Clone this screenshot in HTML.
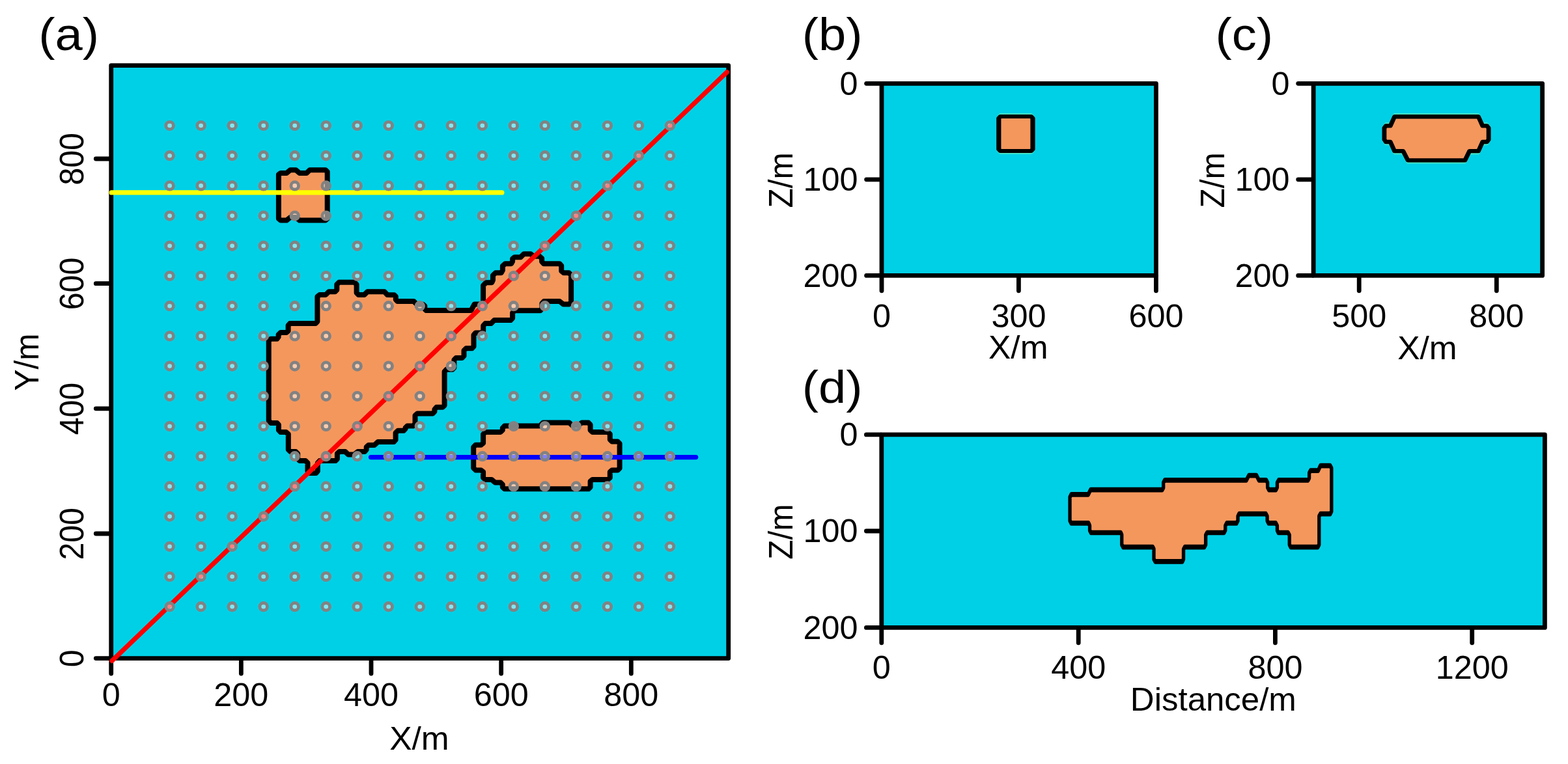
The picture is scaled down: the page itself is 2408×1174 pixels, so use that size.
<!DOCTYPE html>
<html lang="en">
<head>
<meta charset="utf-8">
<title>Model plan view and sections</title>
<style>
html,body{margin:0;padding:0;background:#fff;}
body{width:2408px;height:1174px;}
svg{display:block;}
svg text{font-family:"Liberation Sans", Arial, Helvetica, sans-serif;fill:#000;}
</style>
</head>
<body>
<svg width="2408" height="1174" viewBox="0 0 2408 1174">
<rect x="0" y="0" width="2408" height="1174" fill="#fff"/>
<g id="panel-a">
<rect x="170.70" y="100.70" width="948.00" height="910.90" fill="#00D0E6" stroke="none"/>
<polygon points="427.9,268.1 430.9,266.1 440.1,266.1 445.7,261.2 454.4,261.2 460.0,266.1 470.7,266.1 475.8,261.2 499.8,261.2 502.7,264.0 502.7,336.0 499.8,338.6 460.0,338.6 454.4,334.0 445.7,334.0 440.1,338.6 430.9,338.6 427.9,336.0" fill="#F4975D" stroke="#000" stroke-width="8.00" stroke-linejoin="round" />
<polygon points="412.7,524.0 416.0,520.7 425.4,520.7 427.6,517.9 427.6,514.1 431.0,511.0 439.8,511.0 442.6,508.5 442.6,500.2 445.4,496.9 484.7,496.9 487.4,494.1 487.4,455.9 490.8,453.0 500.2,453.0 505.1,448.2 514.6,448.2 517.3,445.4 517.3,437.1 520.6,433.8 544.4,433.8 547.6,437.1 547.6,449.9 550.5,453.0 559.4,453.0 564.4,448.2 590.4,448.2 594.8,453.0 605.3,453.2 607.8,455.6 607.8,460.5 610.2,462.9 635.3,462.9 640.1,467.8 649.8,467.8 652.3,470.2 652.3,475.0 654.3,477.1 723.4,477.1 728.6,467.5 738.7,467.5 742.1,464.1 742.1,438.6 746.5,434.2 755.3,434.2 757.0,430.3 757.0,423.1 760.9,419.3 769.7,419.3 771.9,415.4 771.9,408.8 775.8,405.2 785.2,405.2 787.1,401.6 787.1,397.7 790.2,395.2 799.6,395.2 804.6,390.2 815.1,390.2 819.0,393.8 828.4,393.8 832.1,397.1 832.1,402.1 835.0,405.2 859.4,405.2 862.2,408.2 862.2,416.5 865.5,419.3 873.8,419.3 877.1,422.6 877.1,464.1 874.3,467.4 864.9,467.4 859.4,463.0 835.4,463.0 832.4,466.3 832.4,474.1 829.7,477.3 790.2,477.3 787.1,480.7 787.1,489.0 784.1,492.1 759.0,492.1 754.0,497.1 745.2,497.1 742.2,500.4 742.2,508.7 739.1,511.4 730.2,511.4 727.5,514.8 727.5,532.5 724.7,535.3 715.8,535.3 712.5,538.6 712.5,546.9 709.8,549.9 700.3,549.9 697.4,553.0 697.4,565.0 694.8,567.8 685.6,567.8 682.6,571.0 682.6,623.0 679.6,625.8 670.2,625.8 667.4,629.1 667.4,632.4 664.7,635.4 640.9,635.4 637.5,638.5 637.5,651.3 634.2,654.6 625.4,654.6 622.6,657.4 622.6,659.0 619.8,661.8 611.0,661.8 607.6,665.1 607.6,675.9 604.8,679.0 580.4,679.0 574.9,683.9 566.0,683.9 562.7,687.0 562.7,690.9 560.0,694.0 549.4,694.0 543.9,698.6 535.0,698.6 530.1,694.0 521.2,694.0 517.9,697.0 517.9,705.3 515.1,708.1 490.8,708.1 487.8,711.4 487.8,724.1 485.2,727.1 475.8,727.1 472.5,724.1 472.5,711.4 469.2,708.1 460.3,708.1 457.2,705.3 457.2,697.0 454.2,694.0 445.9,694.0 442.8,690.9 442.8,667.1 439.3,664.1 431.0,664.1 427.9,661.0 427.9,652.7 425.4,649.9 416.0,649.9 412.7,646.6" fill="#F4975D" stroke="#000" stroke-width="8.00" stroke-linejoin="round" />
<polygon points="727.2,687.0 730.5,683.7 738.8,683.7 742.1,681.0 742.1,667.1 745.5,664.0 768.7,664.0 771.8,661.0 771.8,657.7 774.8,654.6 829.1,654.6 834.0,649.6 874.4,649.6 878.9,653.8 887.7,653.8 893.3,649.6 903.8,649.6 906.6,652.7 906.6,661.0 909.9,664.0 933.7,664.0 936.8,667.1 936.8,675.4 939.8,678.5 948.6,678.5 951.6,681.5 951.6,719.7 948.6,722.5 939.8,722.5 936.8,725.2 936.8,734.1 933.7,736.9 909.9,736.9 906.6,739.6 906.6,748.5 903.8,751.3 774.8,751.3 771.8,748.5 771.8,744.6 768.7,741.5 760.4,741.5 754.9,736.9 745.5,736.9 742.1,734.1 742.1,725.2 738.8,722.5 730.5,722.5 727.2,719.2" fill="#F4975D" stroke="#000" stroke-width="8.00" stroke-linejoin="round" />
<rect x="170.70" y="100.70" width="948.00" height="910.90" fill="none" stroke="#000" stroke-width="6.80" stroke-linejoin="round"/>
<line x1="170.70" y1="1013.10" x2="170.70" y2="1035.00" stroke="#000" stroke-width="6.80" stroke-linecap="round"/>
<line x1="370.35" y1="1013.10" x2="370.35" y2="1035.00" stroke="#000" stroke-width="6.80" stroke-linecap="round"/>
<line x1="570.00" y1="1013.10" x2="570.00" y2="1035.00" stroke="#000" stroke-width="6.80" stroke-linecap="round"/>
<line x1="769.65" y1="1013.10" x2="769.65" y2="1035.00" stroke="#000" stroke-width="6.80" stroke-linecap="round"/>
<line x1="969.30" y1="1013.10" x2="969.30" y2="1035.00" stroke="#000" stroke-width="6.80" stroke-linecap="round"/>
<line x1="169.20" y1="1011.60" x2="147.30" y2="1011.60" stroke="#000" stroke-width="6.80" stroke-linecap="round"/>
<line x1="169.20" y1="820.00" x2="147.30" y2="820.00" stroke="#000" stroke-width="6.80" stroke-linecap="round"/>
<line x1="169.20" y1="627.80" x2="147.30" y2="627.80" stroke="#000" stroke-width="6.80" stroke-linecap="round"/>
<line x1="169.20" y1="435.70" x2="147.30" y2="435.70" stroke="#000" stroke-width="6.80" stroke-linecap="round"/>
<line x1="169.20" y1="244.00" x2="147.30" y2="244.00" stroke="#000" stroke-width="6.80" stroke-linecap="round"/>
<line x1="171.2" y1="295.9" x2="770.9" y2="295.9" stroke="#FFFF00" stroke-width="7.2" stroke-linecap="round"/>
<line x1="569.5" y1="702.6" x2="1068.7" y2="702.6" stroke="#0000FF" stroke-width="7.2" stroke-linecap="round"/>
<line x1="172.0" y1="1015.4" x2="1116.3" y2="110.8" stroke="#FF0000" stroke-width="7.2" stroke-linecap="round"/>
<g fill="#fff" fill-opacity="0.5" stroke="#828282" stroke-width="4.8">
<ellipse cx="260.6" cy="193.0" rx="5.8" ry="5.7"/><ellipse cx="308.6" cy="193.0" rx="5.8" ry="5.7"/><ellipse cx="356.6" cy="193.0" rx="5.8" ry="5.7"/><ellipse cx="404.7" cy="193.0" rx="5.8" ry="5.7"/><ellipse cx="452.7" cy="193.0" rx="5.8" ry="5.7"/><ellipse cx="500.7" cy="193.0" rx="5.8" ry="5.7"/><ellipse cx="548.7" cy="193.0" rx="5.8" ry="5.7"/><ellipse cx="596.7" cy="193.0" rx="5.8" ry="5.7"/><ellipse cx="644.8" cy="193.0" rx="5.8" ry="5.7"/><ellipse cx="692.8" cy="193.0" rx="5.8" ry="5.7"/><ellipse cx="740.8" cy="193.0" rx="5.8" ry="5.7"/><ellipse cx="788.8" cy="193.0" rx="5.8" ry="5.7"/><ellipse cx="836.8" cy="193.0" rx="5.8" ry="5.7"/><ellipse cx="884.8" cy="193.0" rx="5.8" ry="5.7"/><ellipse cx="932.9" cy="193.0" rx="5.8" ry="5.7"/><ellipse cx="980.9" cy="193.0" rx="5.8" ry="5.7"/><ellipse cx="1028.9" cy="193.0" rx="5.8" ry="5.7"/>
<ellipse cx="260.6" cy="239.2" rx="5.8" ry="5.7"/><ellipse cx="308.6" cy="239.2" rx="5.8" ry="5.7"/><ellipse cx="356.6" cy="239.2" rx="5.8" ry="5.7"/><ellipse cx="404.7" cy="239.2" rx="5.8" ry="5.7"/><ellipse cx="452.7" cy="239.2" rx="5.8" ry="5.7"/><ellipse cx="500.7" cy="239.2" rx="5.8" ry="5.7"/><ellipse cx="548.7" cy="239.2" rx="5.8" ry="5.7"/><ellipse cx="596.7" cy="239.2" rx="5.8" ry="5.7"/><ellipse cx="644.8" cy="239.2" rx="5.8" ry="5.7"/><ellipse cx="692.8" cy="239.2" rx="5.8" ry="5.7"/><ellipse cx="740.8" cy="239.2" rx="5.8" ry="5.7"/><ellipse cx="788.8" cy="239.2" rx="5.8" ry="5.7"/><ellipse cx="836.8" cy="239.2" rx="5.8" ry="5.7"/><ellipse cx="884.8" cy="239.2" rx="5.8" ry="5.7"/><ellipse cx="932.9" cy="239.2" rx="5.8" ry="5.7"/><ellipse cx="980.9" cy="239.2" rx="5.8" ry="5.7"/><ellipse cx="1028.9" cy="239.2" rx="5.8" ry="5.7"/>
<ellipse cx="260.6" cy="285.4" rx="5.8" ry="5.7"/><ellipse cx="308.6" cy="285.4" rx="5.8" ry="5.7"/><ellipse cx="356.6" cy="285.4" rx="5.8" ry="5.7"/><ellipse cx="404.7" cy="285.4" rx="5.8" ry="5.7"/><ellipse cx="452.7" cy="285.4" rx="5.8" ry="5.7"/><ellipse cx="500.7" cy="285.4" rx="5.8" ry="5.7"/><ellipse cx="548.7" cy="285.4" rx="5.8" ry="5.7"/><ellipse cx="596.7" cy="285.4" rx="5.8" ry="5.7"/><ellipse cx="644.8" cy="285.4" rx="5.8" ry="5.7"/><ellipse cx="692.8" cy="285.4" rx="5.8" ry="5.7"/><ellipse cx="740.8" cy="285.4" rx="5.8" ry="5.7"/><ellipse cx="788.8" cy="285.4" rx="5.8" ry="5.7"/><ellipse cx="836.8" cy="285.4" rx="5.8" ry="5.7"/><ellipse cx="884.8" cy="285.4" rx="5.8" ry="5.7"/><ellipse cx="932.9" cy="285.4" rx="5.8" ry="5.7"/><ellipse cx="980.9" cy="285.4" rx="5.8" ry="5.7"/><ellipse cx="1028.9" cy="285.4" rx="5.8" ry="5.7"/>
<ellipse cx="260.6" cy="331.6" rx="5.8" ry="5.7"/><ellipse cx="308.6" cy="331.6" rx="5.8" ry="5.7"/><ellipse cx="356.6" cy="331.6" rx="5.8" ry="5.7"/><ellipse cx="404.7" cy="331.6" rx="5.8" ry="5.7"/><ellipse cx="452.7" cy="331.6" rx="5.8" ry="5.7"/><ellipse cx="500.7" cy="331.6" rx="5.8" ry="5.7"/><ellipse cx="548.7" cy="331.6" rx="5.8" ry="5.7"/><ellipse cx="596.7" cy="331.6" rx="5.8" ry="5.7"/><ellipse cx="644.8" cy="331.6" rx="5.8" ry="5.7"/><ellipse cx="692.8" cy="331.6" rx="5.8" ry="5.7"/><ellipse cx="740.8" cy="331.6" rx="5.8" ry="5.7"/><ellipse cx="788.8" cy="331.6" rx="5.8" ry="5.7"/><ellipse cx="836.8" cy="331.6" rx="5.8" ry="5.7"/><ellipse cx="884.8" cy="331.6" rx="5.8" ry="5.7"/><ellipse cx="932.9" cy="331.6" rx="5.8" ry="5.7"/><ellipse cx="980.9" cy="331.6" rx="5.8" ry="5.7"/><ellipse cx="1028.9" cy="331.6" rx="5.8" ry="5.7"/>
<ellipse cx="260.6" cy="377.8" rx="5.8" ry="5.7"/><ellipse cx="308.6" cy="377.8" rx="5.8" ry="5.7"/><ellipse cx="356.6" cy="377.8" rx="5.8" ry="5.7"/><ellipse cx="404.7" cy="377.8" rx="5.8" ry="5.7"/><ellipse cx="452.7" cy="377.8" rx="5.8" ry="5.7"/><ellipse cx="500.7" cy="377.8" rx="5.8" ry="5.7"/><ellipse cx="548.7" cy="377.8" rx="5.8" ry="5.7"/><ellipse cx="596.7" cy="377.8" rx="5.8" ry="5.7"/><ellipse cx="644.8" cy="377.8" rx="5.8" ry="5.7"/><ellipse cx="692.8" cy="377.8" rx="5.8" ry="5.7"/><ellipse cx="740.8" cy="377.8" rx="5.8" ry="5.7"/><ellipse cx="788.8" cy="377.8" rx="5.8" ry="5.7"/><ellipse cx="836.8" cy="377.8" rx="5.8" ry="5.7"/><ellipse cx="884.8" cy="377.8" rx="5.8" ry="5.7"/><ellipse cx="932.9" cy="377.8" rx="5.8" ry="5.7"/><ellipse cx="980.9" cy="377.8" rx="5.8" ry="5.7"/><ellipse cx="1028.9" cy="377.8" rx="5.8" ry="5.7"/>
<ellipse cx="260.6" cy="424.0" rx="5.8" ry="5.7"/><ellipse cx="308.6" cy="424.0" rx="5.8" ry="5.7"/><ellipse cx="356.6" cy="424.0" rx="5.8" ry="5.7"/><ellipse cx="404.7" cy="424.0" rx="5.8" ry="5.7"/><ellipse cx="452.7" cy="424.0" rx="5.8" ry="5.7"/><ellipse cx="500.7" cy="424.0" rx="5.8" ry="5.7"/><ellipse cx="548.7" cy="424.0" rx="5.8" ry="5.7"/><ellipse cx="596.7" cy="424.0" rx="5.8" ry="5.7"/><ellipse cx="644.8" cy="424.0" rx="5.8" ry="5.7"/><ellipse cx="692.8" cy="424.0" rx="5.8" ry="5.7"/><ellipse cx="740.8" cy="424.0" rx="5.8" ry="5.7"/><ellipse cx="788.8" cy="424.0" rx="5.8" ry="5.7"/><ellipse cx="836.8" cy="424.0" rx="5.8" ry="5.7"/><ellipse cx="884.8" cy="424.0" rx="5.8" ry="5.7"/><ellipse cx="932.9" cy="424.0" rx="5.8" ry="5.7"/><ellipse cx="980.9" cy="424.0" rx="5.8" ry="5.7"/><ellipse cx="1028.9" cy="424.0" rx="5.8" ry="5.7"/>
<ellipse cx="260.6" cy="470.2" rx="5.8" ry="5.7"/><ellipse cx="308.6" cy="470.2" rx="5.8" ry="5.7"/><ellipse cx="356.6" cy="470.2" rx="5.8" ry="5.7"/><ellipse cx="404.7" cy="470.2" rx="5.8" ry="5.7"/><ellipse cx="452.7" cy="470.2" rx="5.8" ry="5.7"/><ellipse cx="500.7" cy="470.2" rx="5.8" ry="5.7"/><ellipse cx="548.7" cy="470.2" rx="5.8" ry="5.7"/><ellipse cx="596.7" cy="470.2" rx="5.8" ry="5.7"/><ellipse cx="644.8" cy="470.2" rx="5.8" ry="5.7"/><ellipse cx="692.8" cy="470.2" rx="5.8" ry="5.7"/><ellipse cx="740.8" cy="470.2" rx="5.8" ry="5.7"/><ellipse cx="788.8" cy="470.2" rx="5.8" ry="5.7"/><ellipse cx="836.8" cy="470.2" rx="5.8" ry="5.7"/><ellipse cx="884.8" cy="470.2" rx="5.8" ry="5.7"/><ellipse cx="932.9" cy="470.2" rx="5.8" ry="5.7"/><ellipse cx="980.9" cy="470.2" rx="5.8" ry="5.7"/><ellipse cx="1028.9" cy="470.2" rx="5.8" ry="5.7"/>
<ellipse cx="260.6" cy="516.4" rx="5.8" ry="5.7"/><ellipse cx="308.6" cy="516.4" rx="5.8" ry="5.7"/><ellipse cx="356.6" cy="516.4" rx="5.8" ry="5.7"/><ellipse cx="404.7" cy="516.4" rx="5.8" ry="5.7"/><ellipse cx="452.7" cy="516.4" rx="5.8" ry="5.7"/><ellipse cx="500.7" cy="516.4" rx="5.8" ry="5.7"/><ellipse cx="548.7" cy="516.4" rx="5.8" ry="5.7"/><ellipse cx="596.7" cy="516.4" rx="5.8" ry="5.7"/><ellipse cx="644.8" cy="516.4" rx="5.8" ry="5.7"/><ellipse cx="692.8" cy="516.4" rx="5.8" ry="5.7"/><ellipse cx="740.8" cy="516.4" rx="5.8" ry="5.7"/><ellipse cx="788.8" cy="516.4" rx="5.8" ry="5.7"/><ellipse cx="836.8" cy="516.4" rx="5.8" ry="5.7"/><ellipse cx="884.8" cy="516.4" rx="5.8" ry="5.7"/><ellipse cx="932.9" cy="516.4" rx="5.8" ry="5.7"/><ellipse cx="980.9" cy="516.4" rx="5.8" ry="5.7"/><ellipse cx="1028.9" cy="516.4" rx="5.8" ry="5.7"/>
<ellipse cx="260.6" cy="562.6" rx="5.8" ry="5.7"/><ellipse cx="308.6" cy="562.6" rx="5.8" ry="5.7"/><ellipse cx="356.6" cy="562.6" rx="5.8" ry="5.7"/><ellipse cx="404.7" cy="562.6" rx="5.8" ry="5.7"/><ellipse cx="452.7" cy="562.6" rx="5.8" ry="5.7"/><ellipse cx="500.7" cy="562.6" rx="5.8" ry="5.7"/><ellipse cx="548.7" cy="562.6" rx="5.8" ry="5.7"/><ellipse cx="596.7" cy="562.6" rx="5.8" ry="5.7"/><ellipse cx="644.8" cy="562.6" rx="5.8" ry="5.7"/><ellipse cx="692.8" cy="562.6" rx="5.8" ry="5.7"/><ellipse cx="740.8" cy="562.6" rx="5.8" ry="5.7"/><ellipse cx="788.8" cy="562.6" rx="5.8" ry="5.7"/><ellipse cx="836.8" cy="562.6" rx="5.8" ry="5.7"/><ellipse cx="884.8" cy="562.6" rx="5.8" ry="5.7"/><ellipse cx="932.9" cy="562.6" rx="5.8" ry="5.7"/><ellipse cx="980.9" cy="562.6" rx="5.8" ry="5.7"/><ellipse cx="1028.9" cy="562.6" rx="5.8" ry="5.7"/>
<ellipse cx="260.6" cy="608.8" rx="5.8" ry="5.7"/><ellipse cx="308.6" cy="608.8" rx="5.8" ry="5.7"/><ellipse cx="356.6" cy="608.8" rx="5.8" ry="5.7"/><ellipse cx="404.7" cy="608.8" rx="5.8" ry="5.7"/><ellipse cx="452.7" cy="608.8" rx="5.8" ry="5.7"/><ellipse cx="500.7" cy="608.8" rx="5.8" ry="5.7"/><ellipse cx="548.7" cy="608.8" rx="5.8" ry="5.7"/><ellipse cx="596.7" cy="608.8" rx="5.8" ry="5.7"/><ellipse cx="644.8" cy="608.8" rx="5.8" ry="5.7"/><ellipse cx="692.8" cy="608.8" rx="5.8" ry="5.7"/><ellipse cx="740.8" cy="608.8" rx="5.8" ry="5.7"/><ellipse cx="788.8" cy="608.8" rx="5.8" ry="5.7"/><ellipse cx="836.8" cy="608.8" rx="5.8" ry="5.7"/><ellipse cx="884.8" cy="608.8" rx="5.8" ry="5.7"/><ellipse cx="932.9" cy="608.8" rx="5.8" ry="5.7"/><ellipse cx="980.9" cy="608.8" rx="5.8" ry="5.7"/><ellipse cx="1028.9" cy="608.8" rx="5.8" ry="5.7"/>
<ellipse cx="260.6" cy="655.0" rx="5.8" ry="5.7"/><ellipse cx="308.6" cy="655.0" rx="5.8" ry="5.7"/><ellipse cx="356.6" cy="655.0" rx="5.8" ry="5.7"/><ellipse cx="404.7" cy="655.0" rx="5.8" ry="5.7"/><ellipse cx="452.7" cy="655.0" rx="5.8" ry="5.7"/><ellipse cx="500.7" cy="655.0" rx="5.8" ry="5.7"/><ellipse cx="548.7" cy="655.0" rx="5.8" ry="5.7"/><ellipse cx="596.7" cy="655.0" rx="5.8" ry="5.7"/><ellipse cx="644.8" cy="655.0" rx="5.8" ry="5.7"/><ellipse cx="692.8" cy="655.0" rx="5.8" ry="5.7"/><ellipse cx="740.8" cy="655.0" rx="5.8" ry="5.7"/><ellipse cx="788.8" cy="655.0" rx="5.8" ry="5.7"/><ellipse cx="836.8" cy="655.0" rx="5.8" ry="5.7"/><ellipse cx="884.8" cy="655.0" rx="5.8" ry="5.7"/><ellipse cx="932.9" cy="655.0" rx="5.8" ry="5.7"/><ellipse cx="980.9" cy="655.0" rx="5.8" ry="5.7"/><ellipse cx="1028.9" cy="655.0" rx="5.8" ry="5.7"/>
<ellipse cx="260.6" cy="701.2" rx="5.8" ry="5.7"/><ellipse cx="308.6" cy="701.2" rx="5.8" ry="5.7"/><ellipse cx="356.6" cy="701.2" rx="5.8" ry="5.7"/><ellipse cx="404.7" cy="701.2" rx="5.8" ry="5.7"/><ellipse cx="452.7" cy="701.2" rx="5.8" ry="5.7"/><ellipse cx="500.7" cy="701.2" rx="5.8" ry="5.7"/><ellipse cx="548.7" cy="701.2" rx="5.8" ry="5.7"/><ellipse cx="596.7" cy="701.2" rx="5.8" ry="5.7"/><ellipse cx="644.8" cy="701.2" rx="5.8" ry="5.7"/><ellipse cx="692.8" cy="701.2" rx="5.8" ry="5.7"/><ellipse cx="740.8" cy="701.2" rx="5.8" ry="5.7"/><ellipse cx="788.8" cy="701.2" rx="5.8" ry="5.7"/><ellipse cx="836.8" cy="701.2" rx="5.8" ry="5.7"/><ellipse cx="884.8" cy="701.2" rx="5.8" ry="5.7"/><ellipse cx="932.9" cy="701.2" rx="5.8" ry="5.7"/><ellipse cx="980.9" cy="701.2" rx="5.8" ry="5.7"/><ellipse cx="1028.9" cy="701.2" rx="5.8" ry="5.7"/>
<ellipse cx="260.6" cy="747.4" rx="5.8" ry="5.7"/><ellipse cx="308.6" cy="747.4" rx="5.8" ry="5.7"/><ellipse cx="356.6" cy="747.4" rx="5.8" ry="5.7"/><ellipse cx="404.7" cy="747.4" rx="5.8" ry="5.7"/><ellipse cx="452.7" cy="747.4" rx="5.8" ry="5.7"/><ellipse cx="500.7" cy="747.4" rx="5.8" ry="5.7"/><ellipse cx="548.7" cy="747.4" rx="5.8" ry="5.7"/><ellipse cx="596.7" cy="747.4" rx="5.8" ry="5.7"/><ellipse cx="644.8" cy="747.4" rx="5.8" ry="5.7"/><ellipse cx="692.8" cy="747.4" rx="5.8" ry="5.7"/><ellipse cx="740.8" cy="747.4" rx="5.8" ry="5.7"/><ellipse cx="788.8" cy="747.4" rx="5.8" ry="5.7"/><ellipse cx="836.8" cy="747.4" rx="5.8" ry="5.7"/><ellipse cx="884.8" cy="747.4" rx="5.8" ry="5.7"/><ellipse cx="932.9" cy="747.4" rx="5.8" ry="5.7"/><ellipse cx="980.9" cy="747.4" rx="5.8" ry="5.7"/><ellipse cx="1028.9" cy="747.4" rx="5.8" ry="5.7"/>
<ellipse cx="260.6" cy="793.6" rx="5.8" ry="5.7"/><ellipse cx="308.6" cy="793.6" rx="5.8" ry="5.7"/><ellipse cx="356.6" cy="793.6" rx="5.8" ry="5.7"/><ellipse cx="404.7" cy="793.6" rx="5.8" ry="5.7"/><ellipse cx="452.7" cy="793.6" rx="5.8" ry="5.7"/><ellipse cx="500.7" cy="793.6" rx="5.8" ry="5.7"/><ellipse cx="548.7" cy="793.6" rx="5.8" ry="5.7"/><ellipse cx="596.7" cy="793.6" rx="5.8" ry="5.7"/><ellipse cx="644.8" cy="793.6" rx="5.8" ry="5.7"/><ellipse cx="692.8" cy="793.6" rx="5.8" ry="5.7"/><ellipse cx="740.8" cy="793.6" rx="5.8" ry="5.7"/><ellipse cx="788.8" cy="793.6" rx="5.8" ry="5.7"/><ellipse cx="836.8" cy="793.6" rx="5.8" ry="5.7"/><ellipse cx="884.8" cy="793.6" rx="5.8" ry="5.7"/><ellipse cx="932.9" cy="793.6" rx="5.8" ry="5.7"/><ellipse cx="980.9" cy="793.6" rx="5.8" ry="5.7"/><ellipse cx="1028.9" cy="793.6" rx="5.8" ry="5.7"/>
<ellipse cx="260.6" cy="839.8" rx="5.8" ry="5.7"/><ellipse cx="308.6" cy="839.8" rx="5.8" ry="5.7"/><ellipse cx="356.6" cy="839.8" rx="5.8" ry="5.7"/><ellipse cx="404.7" cy="839.8" rx="5.8" ry="5.7"/><ellipse cx="452.7" cy="839.8" rx="5.8" ry="5.7"/><ellipse cx="500.7" cy="839.8" rx="5.8" ry="5.7"/><ellipse cx="548.7" cy="839.8" rx="5.8" ry="5.7"/><ellipse cx="596.7" cy="839.8" rx="5.8" ry="5.7"/><ellipse cx="644.8" cy="839.8" rx="5.8" ry="5.7"/><ellipse cx="692.8" cy="839.8" rx="5.8" ry="5.7"/><ellipse cx="740.8" cy="839.8" rx="5.8" ry="5.7"/><ellipse cx="788.8" cy="839.8" rx="5.8" ry="5.7"/><ellipse cx="836.8" cy="839.8" rx="5.8" ry="5.7"/><ellipse cx="884.8" cy="839.8" rx="5.8" ry="5.7"/><ellipse cx="932.9" cy="839.8" rx="5.8" ry="5.7"/><ellipse cx="980.9" cy="839.8" rx="5.8" ry="5.7"/><ellipse cx="1028.9" cy="839.8" rx="5.8" ry="5.7"/>
<ellipse cx="260.6" cy="886.0" rx="5.8" ry="5.7"/><ellipse cx="308.6" cy="886.0" rx="5.8" ry="5.7"/><ellipse cx="356.6" cy="886.0" rx="5.8" ry="5.7"/><ellipse cx="404.7" cy="886.0" rx="5.8" ry="5.7"/><ellipse cx="452.7" cy="886.0" rx="5.8" ry="5.7"/><ellipse cx="500.7" cy="886.0" rx="5.8" ry="5.7"/><ellipse cx="548.7" cy="886.0" rx="5.8" ry="5.7"/><ellipse cx="596.7" cy="886.0" rx="5.8" ry="5.7"/><ellipse cx="644.8" cy="886.0" rx="5.8" ry="5.7"/><ellipse cx="692.8" cy="886.0" rx="5.8" ry="5.7"/><ellipse cx="740.8" cy="886.0" rx="5.8" ry="5.7"/><ellipse cx="788.8" cy="886.0" rx="5.8" ry="5.7"/><ellipse cx="836.8" cy="886.0" rx="5.8" ry="5.7"/><ellipse cx="884.8" cy="886.0" rx="5.8" ry="5.7"/><ellipse cx="932.9" cy="886.0" rx="5.8" ry="5.7"/><ellipse cx="980.9" cy="886.0" rx="5.8" ry="5.7"/><ellipse cx="1028.9" cy="886.0" rx="5.8" ry="5.7"/>
<ellipse cx="260.6" cy="932.2" rx="5.8" ry="5.7"/><ellipse cx="308.6" cy="932.2" rx="5.8" ry="5.7"/><ellipse cx="356.6" cy="932.2" rx="5.8" ry="5.7"/><ellipse cx="404.7" cy="932.2" rx="5.8" ry="5.7"/><ellipse cx="452.7" cy="932.2" rx="5.8" ry="5.7"/><ellipse cx="500.7" cy="932.2" rx="5.8" ry="5.7"/><ellipse cx="548.7" cy="932.2" rx="5.8" ry="5.7"/><ellipse cx="596.7" cy="932.2" rx="5.8" ry="5.7"/><ellipse cx="644.8" cy="932.2" rx="5.8" ry="5.7"/><ellipse cx="692.8" cy="932.2" rx="5.8" ry="5.7"/><ellipse cx="740.8" cy="932.2" rx="5.8" ry="5.7"/><ellipse cx="788.8" cy="932.2" rx="5.8" ry="5.7"/><ellipse cx="836.8" cy="932.2" rx="5.8" ry="5.7"/><ellipse cx="884.8" cy="932.2" rx="5.8" ry="5.7"/><ellipse cx="932.9" cy="932.2" rx="5.8" ry="5.7"/><ellipse cx="980.9" cy="932.2" rx="5.8" ry="5.7"/><ellipse cx="1028.9" cy="932.2" rx="5.8" ry="5.7"/>
</g>
<text transform="translate(170.70,1084.60) scale(1.045,1.030)" font-size="48.20" text-anchor="middle">0</text>
<text transform="translate(370.35,1084.60) scale(1.045,1.030)" font-size="48.20" text-anchor="middle">200</text>
<text transform="translate(570.00,1084.60) scale(1.045,1.030)" font-size="48.20" text-anchor="middle">400</text>
<text transform="translate(769.65,1084.60) scale(1.045,1.030)" font-size="48.20" text-anchor="middle">600</text>
<text transform="translate(969.30,1084.60) scale(1.045,1.030)" font-size="48.20" text-anchor="middle">800</text>
<text transform="translate(128.40,1011.90) rotate(-90) scale(1.000,1.080)" font-size="48.20" text-anchor="middle">0</text>
<text transform="translate(128.40,820.30) rotate(-90) scale(1.000,1.080)" font-size="48.20" text-anchor="middle">200</text>
<text transform="translate(128.40,628.10) rotate(-90) scale(1.000,1.080)" font-size="48.20" text-anchor="middle">400</text>
<text transform="translate(128.40,436.00) rotate(-90) scale(1.000,1.080)" font-size="48.20" text-anchor="middle">600</text>
<text transform="translate(128.40,244.30) rotate(-90) scale(1.000,1.080)" font-size="48.20" text-anchor="middle">800</text>
<text transform="translate(644.00,1152.30) scale(1.040,1.020)" font-size="49.50" text-anchor="middle">X/m</text>
<text transform="translate(59.00,556.60) rotate(-90) scale(1.000,1.060)" font-size="49.50" text-anchor="middle">Y/m</text>
<text transform="translate(105.70,77.00) scale(1.085,1.000)" font-size="70.00" text-anchor="middle">(a)</text>
</g>
<g id="panel-b">
<rect x="1354.00" y="128.30" width="421.40" height="295.10" fill="#00D0E6" stroke="none"/>
<g transform="scale(1,1.6290)">
<polygon points="1533.8,111.5 1536.3,109.9 1583.5,109.9 1586.0,111.5 1586.0,140.8 1583.5,142.4 1536.3,142.4 1533.8,140.8" fill="none" stroke="#44E2C6" stroke-width="6.20" stroke-linejoin="round"/>
</g>
<g transform="scale(1,0.8472)">
<polygon points="1533.8,214.3 1536.3,211.2 1583.5,211.2 1586.0,214.3 1586.0,270.8 1583.5,273.9 1536.3,273.9 1533.8,270.8" fill="#F4975D" stroke="#000" stroke-width="7.20" stroke-linejoin="round" />
</g>
<rect x="1354.00" y="128.30" width="421.40" height="295.10" fill="none" stroke="#000" stroke-width="6.80" stroke-linejoin="round"/>
<line x1="1354.00" y1="424.90" x2="1354.00" y2="446.80" stroke="#000" stroke-width="6.80" stroke-linecap="round"/>
<text transform="translate(1354.00,502.60) scale(1.045,1.030)" font-size="48.20" text-anchor="middle">0</text>
<line x1="1564.40" y1="424.90" x2="1564.40" y2="446.80" stroke="#000" stroke-width="6.80" stroke-linecap="round"/>
<text transform="translate(1564.40,502.60) scale(1.045,1.030)" font-size="48.20" text-anchor="middle">300</text>
<line x1="1775.40" y1="424.90" x2="1775.40" y2="446.80" stroke="#000" stroke-width="6.80" stroke-linecap="round"/>
<text transform="translate(1775.40,502.60) scale(1.045,1.030)" font-size="48.20" text-anchor="middle">600</text>
<line x1="1352.50" y1="128.30" x2="1330.60" y2="128.30" stroke="#000" stroke-width="6.80" stroke-linecap="round"/>
<text transform="translate(1317.50,145.50) scale(1.045,1.030)" font-size="48.20" text-anchor="end">0</text>
<line x1="1352.50" y1="275.80" x2="1330.60" y2="275.80" stroke="#000" stroke-width="6.80" stroke-linecap="round"/>
<text transform="translate(1317.50,293.00) scale(1.045,1.030)" font-size="48.20" text-anchor="end">100</text>
<line x1="1352.50" y1="423.40" x2="1330.60" y2="423.40" stroke="#000" stroke-width="6.80" stroke-linecap="round"/>
<text transform="translate(1317.50,440.60) scale(1.045,1.030)" font-size="48.20" text-anchor="end">200</text>
<text transform="translate(1563.80,551.40) scale(1.040,1.020)" font-size="49.50" text-anchor="middle">X/m</text>
<text transform="translate(1217.00,276.90) rotate(-90) scale(1.000,1.060)" font-size="49.50" text-anchor="middle">Z/m</text>
<text transform="translate(1278.20,77.20) scale(1.085,1.000)" font-size="70.00" text-anchor="middle">(b)</text>
</g>
<g id="panel-c">
<rect x="2017.10" y="128.30" width="351.50" height="295.10" fill="#00D0E6" stroke="none"/>
<g transform="scale(1,1.7778)">
<polygon points="2141.6,100.8 2135.2,108.8 2128.3,108.8 2125.9,110.6 2125.9,120.6 2128.3,122.7 2135.2,122.7 2141.6,130.6 2154.8,130.6 2162.1,138.6 2249.8,138.6 2256.7,130.6 2270.4,130.6 2276.8,122.7 2283.6,122.7 2286.1,120.6 2286.1,110.6 2283.6,108.8 2276.8,108.8 2270.4,100.8" fill="none" stroke="#44E2C6" stroke-width="5.85" stroke-linejoin="round"/>
</g>
<g transform="scale(1,0.9343)">
<polygon points="2141.6,191.8 2135.2,207.0 2128.3,207.0 2125.9,210.4 2125.9,229.5 2128.3,233.4 2135.2,233.4 2141.6,248.5 2154.8,248.5 2162.1,263.7 2249.8,263.7 2256.7,248.5 2270.4,248.5 2276.8,233.4 2283.6,233.4 2286.1,229.5 2286.1,210.4 2283.6,207.0 2276.8,207.0 2270.4,191.8" fill="#F4975D" stroke="#000" stroke-width="6.85" stroke-linejoin="round" />
</g>
<rect x="2017.10" y="128.30" width="351.50" height="295.10" fill="none" stroke="#000" stroke-width="6.80" stroke-linejoin="round"/>
<line x1="2087.20" y1="424.90" x2="2087.20" y2="446.80" stroke="#000" stroke-width="6.80" stroke-linecap="round"/>
<text transform="translate(2087.20,502.80) scale(1.045,1.030)" font-size="48.20" text-anchor="middle">500</text>
<line x1="2298.30" y1="424.90" x2="2298.30" y2="446.80" stroke="#000" stroke-width="6.80" stroke-linecap="round"/>
<text transform="translate(2298.30,502.80) scale(1.045,1.030)" font-size="48.20" text-anchor="middle">800</text>
<line x1="2015.60" y1="128.30" x2="1993.70" y2="128.30" stroke="#000" stroke-width="6.80" stroke-linecap="round"/>
<text transform="translate(1980.50,145.50) scale(1.045,1.030)" font-size="48.20" text-anchor="end">0</text>
<line x1="2015.60" y1="275.80" x2="1993.70" y2="275.80" stroke="#000" stroke-width="6.80" stroke-linecap="round"/>
<text transform="translate(1980.50,293.00) scale(1.045,1.030)" font-size="48.20" text-anchor="end">100</text>
<line x1="2015.60" y1="423.40" x2="1993.70" y2="423.40" stroke="#000" stroke-width="6.80" stroke-linecap="round"/>
<text transform="translate(1980.50,440.60) scale(1.045,1.030)" font-size="48.20" text-anchor="end">200</text>
<text transform="translate(2192.00,552.00) scale(1.040,1.020)" font-size="49.50" text-anchor="middle">X/m</text>
<text transform="translate(1880.00,276.90) rotate(-90) scale(1.000,1.060)" font-size="49.50" text-anchor="middle">Z/m</text>
<text transform="translate(1910.80,77.20) scale(1.085,1.000)" font-size="70.00" text-anchor="middle">(c)</text>
</g>
<g id="panel-d">
<rect x="1353.80" y="667.90" width="1018.60" height="296.50" fill="#00D0E6" stroke="none"/>
<g transform="scale(0.690,1)">
<polygon points="2381.2,764.0 2384.2,759.8 2422.2,759.8 2427.2,752.6 2587.0,752.6 2589.4,749.3 2589.4,741.8 2592.2,737.8 2774.2,737.8 2779.3,730.7 2796.7,730.7 2801.7,737.8 2818.3,737.8 2821.2,741.8 2821.2,748.8 2824.1,752.6 2840.0,752.6 2842.6,748.8 2842.6,741.8 2845.8,737.8 2911.4,737.8 2913.9,734.4 2913.9,726.9 2916.8,723.2 2933.9,723.2 2938.8,715.7 2960.6,715.7 2963.5,719.4 2963.5,785.7 2960.6,789.7 2938.8,789.7 2935.9,793.2 2935.9,836.8 2933.2,840.6 2872.5,840.6 2869.9,836.8 2869.9,822.3 2867.0,818.5 2845.1,818.5 2842.6,814.9 2842.6,807.9 2839.7,803.9 2823.3,803.9 2820.4,799.9 2820.4,793.4 2817.5,789.7 2757.7,789.7 2755.1,793.4 2755.1,799.9 2752.2,803.9 2730.1,803.9 2727.2,807.9 2727.2,814.9 2724.3,818.5 2686.4,818.5 2683.5,822.3 2683.5,836.8 2680.6,840.6 2636.7,840.6 2634.1,844.3 2634.1,859.2 2631.7,862.9 2571.0,862.9 2568.1,859.2 2568.1,843.8 2565.9,840.6 2499.6,840.6 2496.7,836.8 2496.7,821.8 2494.5,818.5 2428.0,818.5 2425.4,814.9 2425.4,807.9 2422.9,803.9 2384.1,803.9 2381.2,799.9" fill="#F4975D" stroke="#000" stroke-width="7.70" stroke-linejoin="round" />
</g>
<rect x="1353.80" y="667.90" width="1018.60" height="296.50" fill="none" stroke="#000" stroke-width="6.80" stroke-linejoin="round"/>
<line x1="1353.80" y1="965.90" x2="1353.80" y2="987.80" stroke="#000" stroke-width="6.80" stroke-linecap="round"/>
<text transform="translate(1353.80,1042.60) scale(1.045,1.030)" font-size="48.20" text-anchor="middle">0</text>
<line x1="1656.20" y1="965.90" x2="1656.20" y2="987.80" stroke="#000" stroke-width="6.80" stroke-linecap="round"/>
<text transform="translate(1656.20,1042.60) scale(1.045,1.030)" font-size="48.20" text-anchor="middle">400</text>
<line x1="1958.40" y1="965.90" x2="1958.40" y2="987.80" stroke="#000" stroke-width="6.80" stroke-linecap="round"/>
<text transform="translate(1958.40,1042.60) scale(1.045,1.030)" font-size="48.20" text-anchor="middle">800</text>
<line x1="2260.70" y1="965.90" x2="2260.70" y2="987.80" stroke="#000" stroke-width="6.80" stroke-linecap="round"/>
<text transform="translate(2260.70,1042.60) scale(1.045,1.030)" font-size="48.20" text-anchor="middle">1200</text>
<line x1="1352.30" y1="667.90" x2="1330.40" y2="667.90" stroke="#000" stroke-width="6.80" stroke-linecap="round"/>
<text transform="translate(1317.50,685.10) scale(1.045,1.030)" font-size="48.20" text-anchor="end">0</text>
<line x1="1352.30" y1="816.00" x2="1330.40" y2="816.00" stroke="#000" stroke-width="6.80" stroke-linecap="round"/>
<text transform="translate(1317.50,833.20) scale(1.045,1.030)" font-size="48.20" text-anchor="end">100</text>
<line x1="1352.30" y1="964.40" x2="1330.40" y2="964.40" stroke="#000" stroke-width="6.80" stroke-linecap="round"/>
<text transform="translate(1317.50,981.60) scale(1.045,1.030)" font-size="48.20" text-anchor="end">200</text>
<text transform="translate(1863.30,1092.00) scale(1.030,1.020)" font-size="49.50" text-anchor="middle">Distance/m</text>
<text transform="translate(1217.00,817.20) rotate(-90) scale(1.000,1.060)" font-size="49.50" text-anchor="middle">Z/m</text>
<text transform="translate(1278.20,619.00) scale(1.085,1.000)" font-size="70.00" text-anchor="middle">(d)</text>
</g>
</svg>
</body>
</html>
